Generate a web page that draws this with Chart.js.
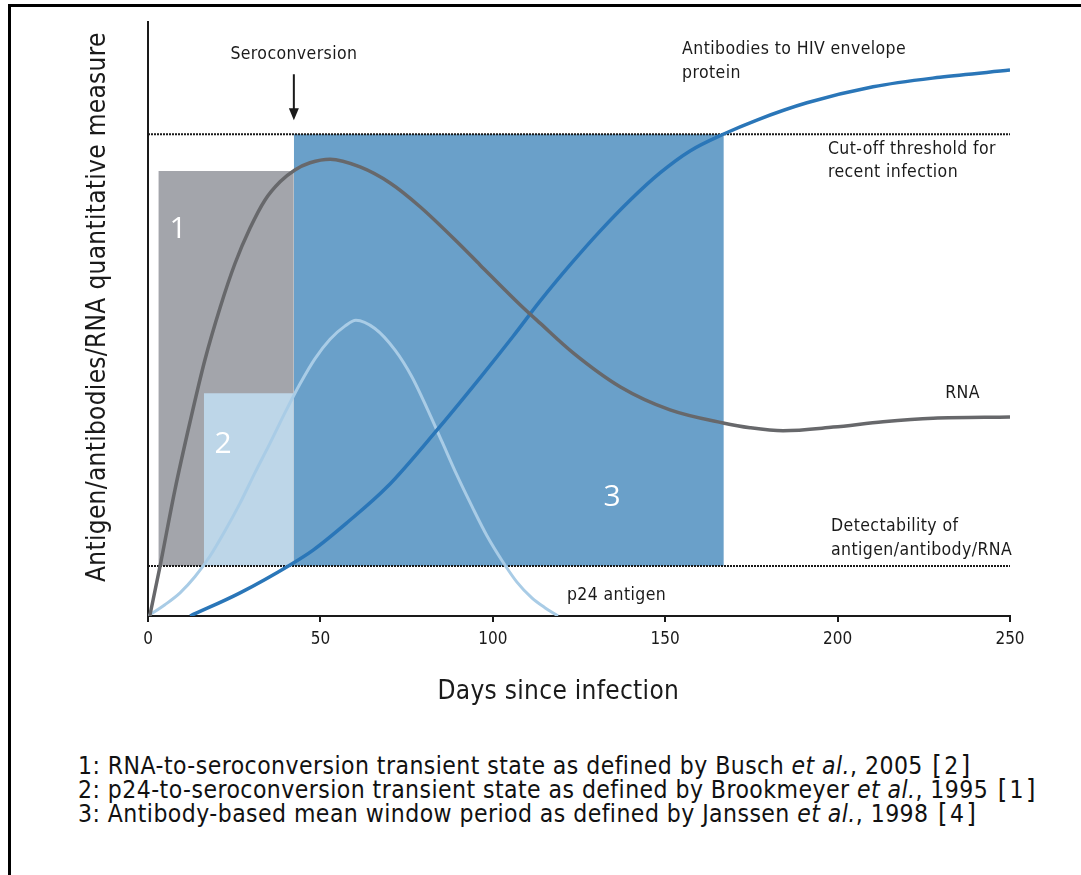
<!DOCTYPE html>
<html>
<head>
<meta charset="utf-8">
<script src="https://cdn.jsdelivr.net/npm/chart.js@4.4.1/dist/chart.umd.min.js"></script>
<style>
  body { margin: 0; background: #fff; width: 1081px; height: 875px; overflow: hidden; position: relative;
         font-family: 'Liberation Sans Narrow', 'DejaVu Sans Condensed', 'Roboto Condensed', 'Arial Narrow', sans-serif; }
  #frame { position: absolute; left: 8px; top: 4px; width: 1100px; height: 900px; border: 3px solid #000; }
  #wrap { position: absolute; left: 0; top: 0; width: 1081px; height: 710px; }
  #notes { position: absolute; left: 78px; top: 753px; font-size: 24.5px; line-height: 23px; color: #111; letter-spacing: 0.45px; }
  #notes .br { font-size: 27px; font-weight: 300; margin: 0 2px; }
</style>
</head>
<body>
<div id="frame"></div>
<div id="wrap"><canvas id="grafico"></canvas></div>
<div id="notes">
  <div>1: RNA-to-seroconversion transient state as defined by Busch <i>et al.</i>, 2005 <span class="br">[</span>2<span class="br">]</span></div>
  <div>2: p24-to-seroconversion transient state as defined by Brookmeyer <i>et al.</i>, 1995 <span class="br">[</span>1<span class="br">]</span></div>
  <div>3: Antibody-based mean window period as defined by Janssen <i>et al.</i>, 1998 <span class="br">[</span>4<span class="br">]</span></div>
</div>
<script>
// curvas (dias desde la infeccion / nivel relativo 0-100)
const rnaDays = [0.5, 3.5, 7.8, 12.2, 16.5, 20.9, 25.2, 29.6, 33.9, 38.3, 42.6, 47.0, 52.8, 61.5, 70.2, 78.9, 90.5, 96.3, 107.9, 113.7, 123.3, 136.9, 151.4, 166.8, 174.6, 184.2, 198.7, 213.2, 227.7, 250];
const rnaLevel = [0, 8.4, 21.2, 32.7, 43.1, 51.9, 59.3, 65.3, 70.0, 73.1, 75.1, 76.3, 76.9, 75.6, 72.9, 68.9, 62.5, 59.1, 52.4, 49.3, 44.3, 38.6, 34.7, 32.5, 31.7, 31.2, 31.8, 32.7, 33.3, 33.5];

const p24Days = [0, 4.9, 9.3, 13.6, 18.0, 22.3, 26.7, 31.0, 35.4, 39.7, 44.1, 48.4, 52.8, 57.1, 60.3, 65.8, 71.6, 76.6, 80.9, 85.3, 89.6, 94.0, 98.3, 102.7, 107.0, 111.4, 115.1, 118.9];
const p24Level = [0, 1.9, 3.9, 6.6, 10.1, 14.3, 19.0, 24.1, 29.1, 34.2, 39.1, 43.3, 46.6, 48.8, 49.8, 48.4, 44.8, 40.2, 35.0, 29.3, 23.7, 18.4, 13.5, 9.3, 5.7, 3.0, 1.4, 0];

const abDays = [12.2, 26.7, 41.2, 47.9, 57.7, 69.3, 83.8, 96.3, 105.9, 113.7, 122.4, 131.1, 139.8, 148.5, 157.2, 166.8, 176.6, 191.1, 210.3, 229.7, 250];
const abLevel = [0, 3.9, 8.6, 11.1, 15.7, 21.7, 31.3, 40.1, 47.1, 53.0, 59.1, 64.8, 70.0, 74.6, 78.3, 81.1, 83.5, 86.4, 89.1, 90.7, 91.9];

// umbrales
const cutoffLevel = 81.1;
const detectLevel = 8.4;
const seroconversionDay = 42.3;

// periodos 1, 2, 3
const periodNames = ['1', '2', '3'];
const periodStart = [3, 16.2, 42.3];
const periodEnd = [42.3, 42.3, 167];
const periodTop = [74.9, 37.5, 81.1];

const xTicks = [0, 50, 100, 150, 200, 250];

const narrow = "'Liberation Sans Narrow', 'DejaVu Sans Condensed', 'Roboto Condensed', 'Arial Narrow', sans-serif";
const ink = '#1a1a1a';

function puntos(xs, ys) {
  return xs.map((x, i) => ({ x: x, y: ys[i] }));
}

function curva(label, xs, ys, color, ancho) {
  return {
    label: label,
    data: puntos(xs, ys),
    borderColor: color,
    borderWidth: ancho,
    pointRadius: 0,
    cubicInterpolationMode: 'monotone',
    fill: false,
    order: 1
  };
}

function periodo(i, color, orden) {
  return {
    label: 'periodo ' + periodNames[i],
    data: [{ x: periodStart[i], y: periodTop[i] }, { x: periodEnd[i], y: periodTop[i] }],
    borderWidth: 0,
    pointRadius: 0,
    backgroundColor: color,
    fill: { value: detectLevel },
    tension: 0,
    order: orden
  };
}

function umbral(nivel) {
  return {
    label: 'umbral',
    data: [{ x: 0, y: nivel }, { x: 250, y: nivel }],
    borderColor: ink,
    borderWidth: 2,
    borderDash: [2, 1],
    pointRadius: 0,
    fill: false,
    order: 2
  };
}

// textos del grafico (en coordenadas de datos)
const etiquetas = [
  { text: 'Seroconversion', x: 42.3, y: 94.6, align: 'center' },
  { text: 'Antibodies to HIV envelope', x: 154.9, y: 95.3, align: 'left' },
  { text: 'protein', x: 154.9, y: 91.4, align: 'left' },
  { text: 'Cut-off threshold for', x: 197.2, y: 78.5, align: 'left' },
  { text: 'recent infection', x: 197.2, y: 74.7, align: 'left' },
  { text: 'RNA', x: 231.2, y: 37.4, align: 'left' },
  { text: 'Detectability of', x: 198.1, y: 15.0, align: 'left' },
  { text: 'antigen/antibody/RNA', x: 198.1, y: 11.1, align: 'left' },
  { text: 'p24 antigen', x: 121.5, y: 3.5, align: 'left' }
];
const numeros = [
  { text: '1', x: 8.7, y: 65 },
  { text: '2', x: 21.8, y: 28.8 },
  { text: '3', x: 134.6, y: 20 }
];
const tituloX = 'Days since infection';
const tituloY = 'Antigen/antibodies/RNA quantitative measure';

const anotaciones = {
  id: 'anotaciones',
  afterDatasetsDraw(chart) {
    const ctx = chart.ctx;
    const xs = chart.scales.x;
    const ys = chart.scales.y;
    ctx.save();
    ctx.fillStyle = '#fff';
    ctx.font = "30px 'Open Sans', sans-serif";
    ctx.textAlign = 'center';
    ctx.textBaseline = 'middle';
    numeros.forEach(n => ctx.fillText(n.text, xs.getPixelForValue(n.x), ys.getPixelForValue(n.y)));

    ctx.fillStyle = ink;
    ctx.font = '17.5px ' + narrow;
    ctx.letterSpacing = '0.4px';
    etiquetas.forEach(e => {
      ctx.textAlign = e.align;
      ctx.fillText(e.text, xs.getPixelForValue(e.x), ys.getPixelForValue(e.y));
    });

    // titulos de los ejes
    ctx.letterSpacing = '0.3px';
    ctx.font = '26px ' + narrow;
    ctx.textAlign = 'center';
    ctx.fillText(tituloX, xs.getPixelForValue(119), xs.bottom - 18);
    ctx.save();
    ctx.translate(ys.right - 50, ys.getPixelForValue(52));
    ctx.rotate(-Math.PI / 2);
    ctx.fillText(tituloY, 0, 0);
    ctx.restore();

    // flecha de seroconversion
    const ax = xs.getPixelForValue(seroconversionDay);
    const tip = ys.getPixelForValue(cutoffLevel) - 14;
    ctx.strokeStyle = ink;
    ctx.lineWidth = 2;
    ctx.beginPath();
    ctx.moveTo(ax, tip - 46);
    ctx.lineTo(ax, tip - 10);
    ctx.stroke();
    ctx.beginPath();
    ctx.moveTo(ax - 5, tip - 12);
    ctx.lineTo(ax + 5, tip - 12);
    ctx.lineTo(ax, tip);
    ctx.closePath();
    ctx.fill();
    ctx.restore();
  }
};

const ctx = document.getElementById('grafico').getContext('2d');
new Chart(ctx, {
  type: 'line',
  data: {
    datasets: [
      curva('RNA', rnaDays, rnaLevel, '#67686b', 3.5),
      curva('Antibodies', abDays, abLevel, '#2a76b8', 3.5),
      curva('p24 antigen', p24Days, p24Level, '#a9cce6', 3),
      umbral(cutoffLevel),
      umbral(detectLevel),
      periodo(0, '#a3a5ab', 6),
      periodo(1, '#bdd6e8', 5),
      periodo(2, '#6aa0c9', 5)
    ]
  },
  options: {
    responsive: true,
    maintainAspectRatio: false,
    animation: false,
    layout: { padding: { left: 0, top: 22, right: 71, bottom: 0 } },
    plugins: { legend: { display: false }, tooltip: { enabled: false } },
    scales: {
      x: {
        type: 'linear',
        min: 0,
        max: 250,
        afterBuildTicks: scale => { scale.ticks = xTicks.map(v => ({ value: v })); },
        afterFit: scale => { scale.height = 94; },
        ticks: { color: ink, font: { size: 17, family: narrow }, padding: 7 },
        grid: { display: true, drawOnChartArea: false, drawTicks: true, tickLength: 6, color: ink, lineWidth: 2 },
        border: { display: true, color: ink, width: 2 },
        title: { display: false }
      },
      y: {
        min: 0,
        max: 100,
        afterFit: scale => { scale.width = 148; },
        ticks: { display: false },
        grid: { display: false, drawTicks: false },
        border: { display: true, color: ink, width: 2 },
        title: { display: false }
      }
    }
  },
  plugins: [anotaciones]
});
</script>
</body>
</html>
